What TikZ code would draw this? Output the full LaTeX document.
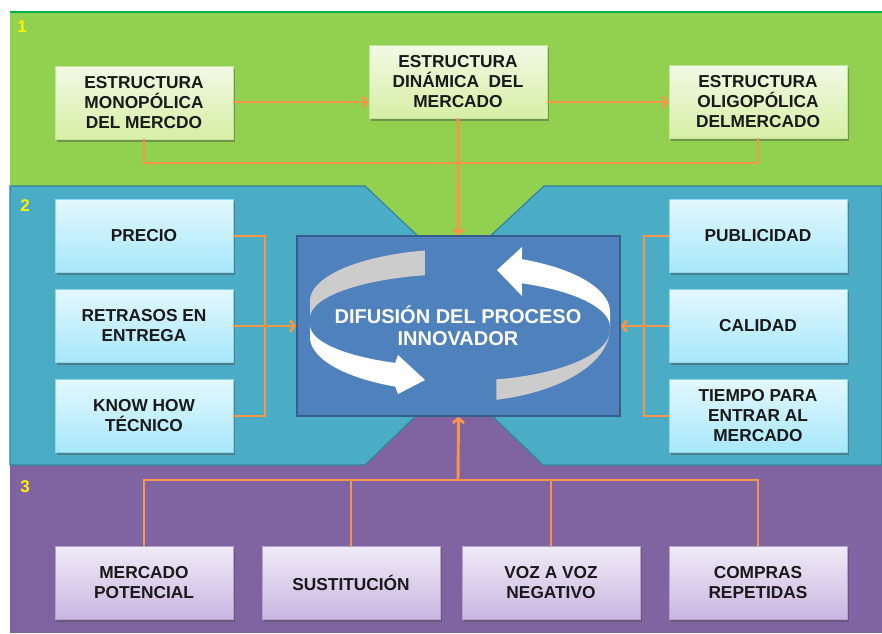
\documentclass[tikz,border=0pt]{standalone}
\usepackage{fontspec}
\setmainfont{Liberation Sans}
\usetikzlibrary{arrows.meta,shadows}
\definecolor{bgG}{HTML}{92D050}
\definecolor{bgGline}{HTML}{00B050}
\definecolor{bgB}{HTML}{4BACC6}
\definecolor{bgBline}{HTML}{31849B}
\definecolor{bgP}{HTML}{8064A2}
\definecolor{cbox}{HTML}{4F81BD}
\definecolor{cboxline}{HTML}{385D8A}
\definecolor{conn}{HTML}{F79646}
\definecolor{rib}{HTML}{CCCCCC}
\definecolor{gTop}{HTML}{F2F9E6}
\definecolor{gBot}{HTML}{D6EFA4}
\definecolor{gLine}{HTML}{C4E49A}
\definecolor{bTop}{HTML}{E3F8FE}
\definecolor{bBot}{HTML}{A6E7FA}
\definecolor{bLine}{HTML}{8FD6EC}
\definecolor{pTop}{HTML}{F0EBF7}
\definecolor{pBot}{HTML}{C9B6E1}
\definecolor{pLine}{HTML}{B5A3CF}
\tikzset{
  box/.style={minimum width=178pt,minimum height=73pt,inner sep=0pt,align=center,
    font=\fontsize{17.3}{20}\selectfont\bfseries,text=black!90,
    drop shadow={shadow xshift=1.5pt,shadow yshift=-2.5pt,opacity=0.45,fill=black!70}},
  gbox/.style={box,top color=gTop,bottom color=gBot,draw=gLine,line width=0.8pt},
  bbox/.style={box,top color=bTop,bottom color=bBot,draw=bLine,line width=0.8pt},
  pbox/.style={box,top color=pTop,bottom color=pBot,draw=pLine,line width=0.8pt},
  wire/.style={draw=conn,line width=2.9pt},
  arr/.style={wire,-{Straight Barb[length=4.5pt,width=11pt,line width=2.6pt]}},
  num/.style={text=yellow,font=\fontsize{17}{19}\selectfont\bfseries}
}
\begin{document}
\begin{tikzpicture}[x=1pt,y=-1pt]
\useasboundingbox (0,0) rectangle (882,633);
% regions
\fill[bgG] (10,12) rectangle (882,300);
\draw[bgGline,line width=1.5pt] (10,12) -- (882,12);
\fill[bgP] (10,300) rectangle (882,633);
\filldraw[fill=bgB,draw=bgBline,line width=1.2pt]
  (10,186) -- (365,186) -- (422,240) -- (486,240) -- (544,186) -- (882,186)
  -- (882,465) -- (543,465) -- (488,412) -- (420,412) -- (365,465) -- (10,465) -- cycle;
\node[num] (n1) at (22,27) {1};
\node[num] (n2) at (25,206) {2};
\node[num] (n3) at (25,487) {3};
% central box
\node[draw=cboxline,fill=cbox,line width=1.5pt,minimum width=323pt,minimum height=180pt,inner sep=0pt] (c) at (458.5,326) {};
% ribbons: left (grey back, white front with head)
\fill[rib] plot[domain=103.5:180,samples=40] ({460+150*cos(\x)},{301-52*sin(\x)})
  -- plot[domain=180:103.5,samples=40] ({460+150*cos(\x)},{318-44*sin(\x)}) -- cycle;
\fill[white] plot[domain=180:244.4,samples=40] ({460+150*cos(\x)},{325-42*sin(\x)})
  -- (398,355) -- (425,380) -- (398,394)
  -- plot[domain=244.4:180,samples=40] ({460+150*cos(\x)},{337-55*sin(\x)}) -- cycle;
% right (white back with head, grey front)
\fill[white] plot[domain=0:65.6,samples=40] ({460+150*cos(\x)},{327-48*sin(\x)})
  -- (522,296) -- (497,270) -- (522,247)
  -- plot[domain=65.6:0,samples=40] ({460+150*cos(\x)},{312-58*sin(\x)}) -- cycle;
\fill[rib] plot[domain=-76:0,samples=40] ({460+150*cos(\x)},{328-74*sin(\x)})
  -- plot[domain=0:-76,samples=40] ({460+150*cos(\x)},{330-51*sin(\x)}) -- cycle;
\node[text=white,align=center,font=\fontsize{20}{22}\selectfont\bfseries] (ct) at (458,326) {DIFUSIÓN DEL PROCESO\\INNOVADOR};
% green boxes
\node[gbox] (g1) at (144,102.5) {ESTRUCTURA\\MONOPÓLICA\\DEL MERCDO};
\node[gbox] (g2) at (458,81.5) {ESTRUCTURA\\DINÁMICA\ \ DEL\\MERCADO};
\node[gbox] (g3) at (758,101.5) {ESTRUCTURA\\OLIGOPÓLICA\\DELMERCADO};
% blue boxes
\node[bbox] (b1) at (144,236) {PRECIO};
\node[bbox] (b2) at (144,326) {RETRASOS EN\\ENTREGA};
\node[bbox] (b3) at (144,416) {KNOW HOW\\TÉCNICO};
\node[bbox] (r1) at (758,236) {PUBLICIDAD};
\node[bbox] (r2) at (758,326) {CALIDAD};
\node[bbox] (r3) at (758,416) {TIEMPO PARA\\ENTRAR AL\\MERCADO};
% purple boxes
\node[pbox] (p1) at (144,582.5) {MERCADO\\POTENCIAL};
\node[pbox] (p2) at (351,582.5) {SUSTITUCIÓN};
\node[pbox] (p3) at (551,582.5) {VOZ A VOZ\\NEGATIVO};
\node[pbox] (p4) at (758,582.5) {COMPRAS\\REPETIDAS};
% connectors
\coordinate (j1) at (458,163);
\draw[arr] (g1.east |- 0,102) -- (g2.west |- 0,102);
\draw[arr] (g2.east |- 0,102) -- (g3.west |- 0,102);
\draw[wire] (g1.south) |- (j1) -| (g3.south);
\draw[arr] (g2.south) -- (c.north);
\coordinate (lb) at (265,326);
\draw[wire] (b1.east) -| (lb) |- (b3.east);
\draw[arr] (b2.east) -- (c.west);
\coordinate (rb) at (644,326);
\draw[wire] (r1.west) -| (rb) |- (r3.west);
\draw[arr] (r2.west) -- (c.east);
\coordinate (hb) at (458,480);
\draw[wire] (p1.north) |- (hb) -| (p4.north);
\draw[wire] (p2.north) -- (p2.north |- hb);
\draw[wire] (p3.north) -- (p3.north |- hb);
\draw[arr] (hb) -- (c.south);
\end{tikzpicture}
\end{document}
